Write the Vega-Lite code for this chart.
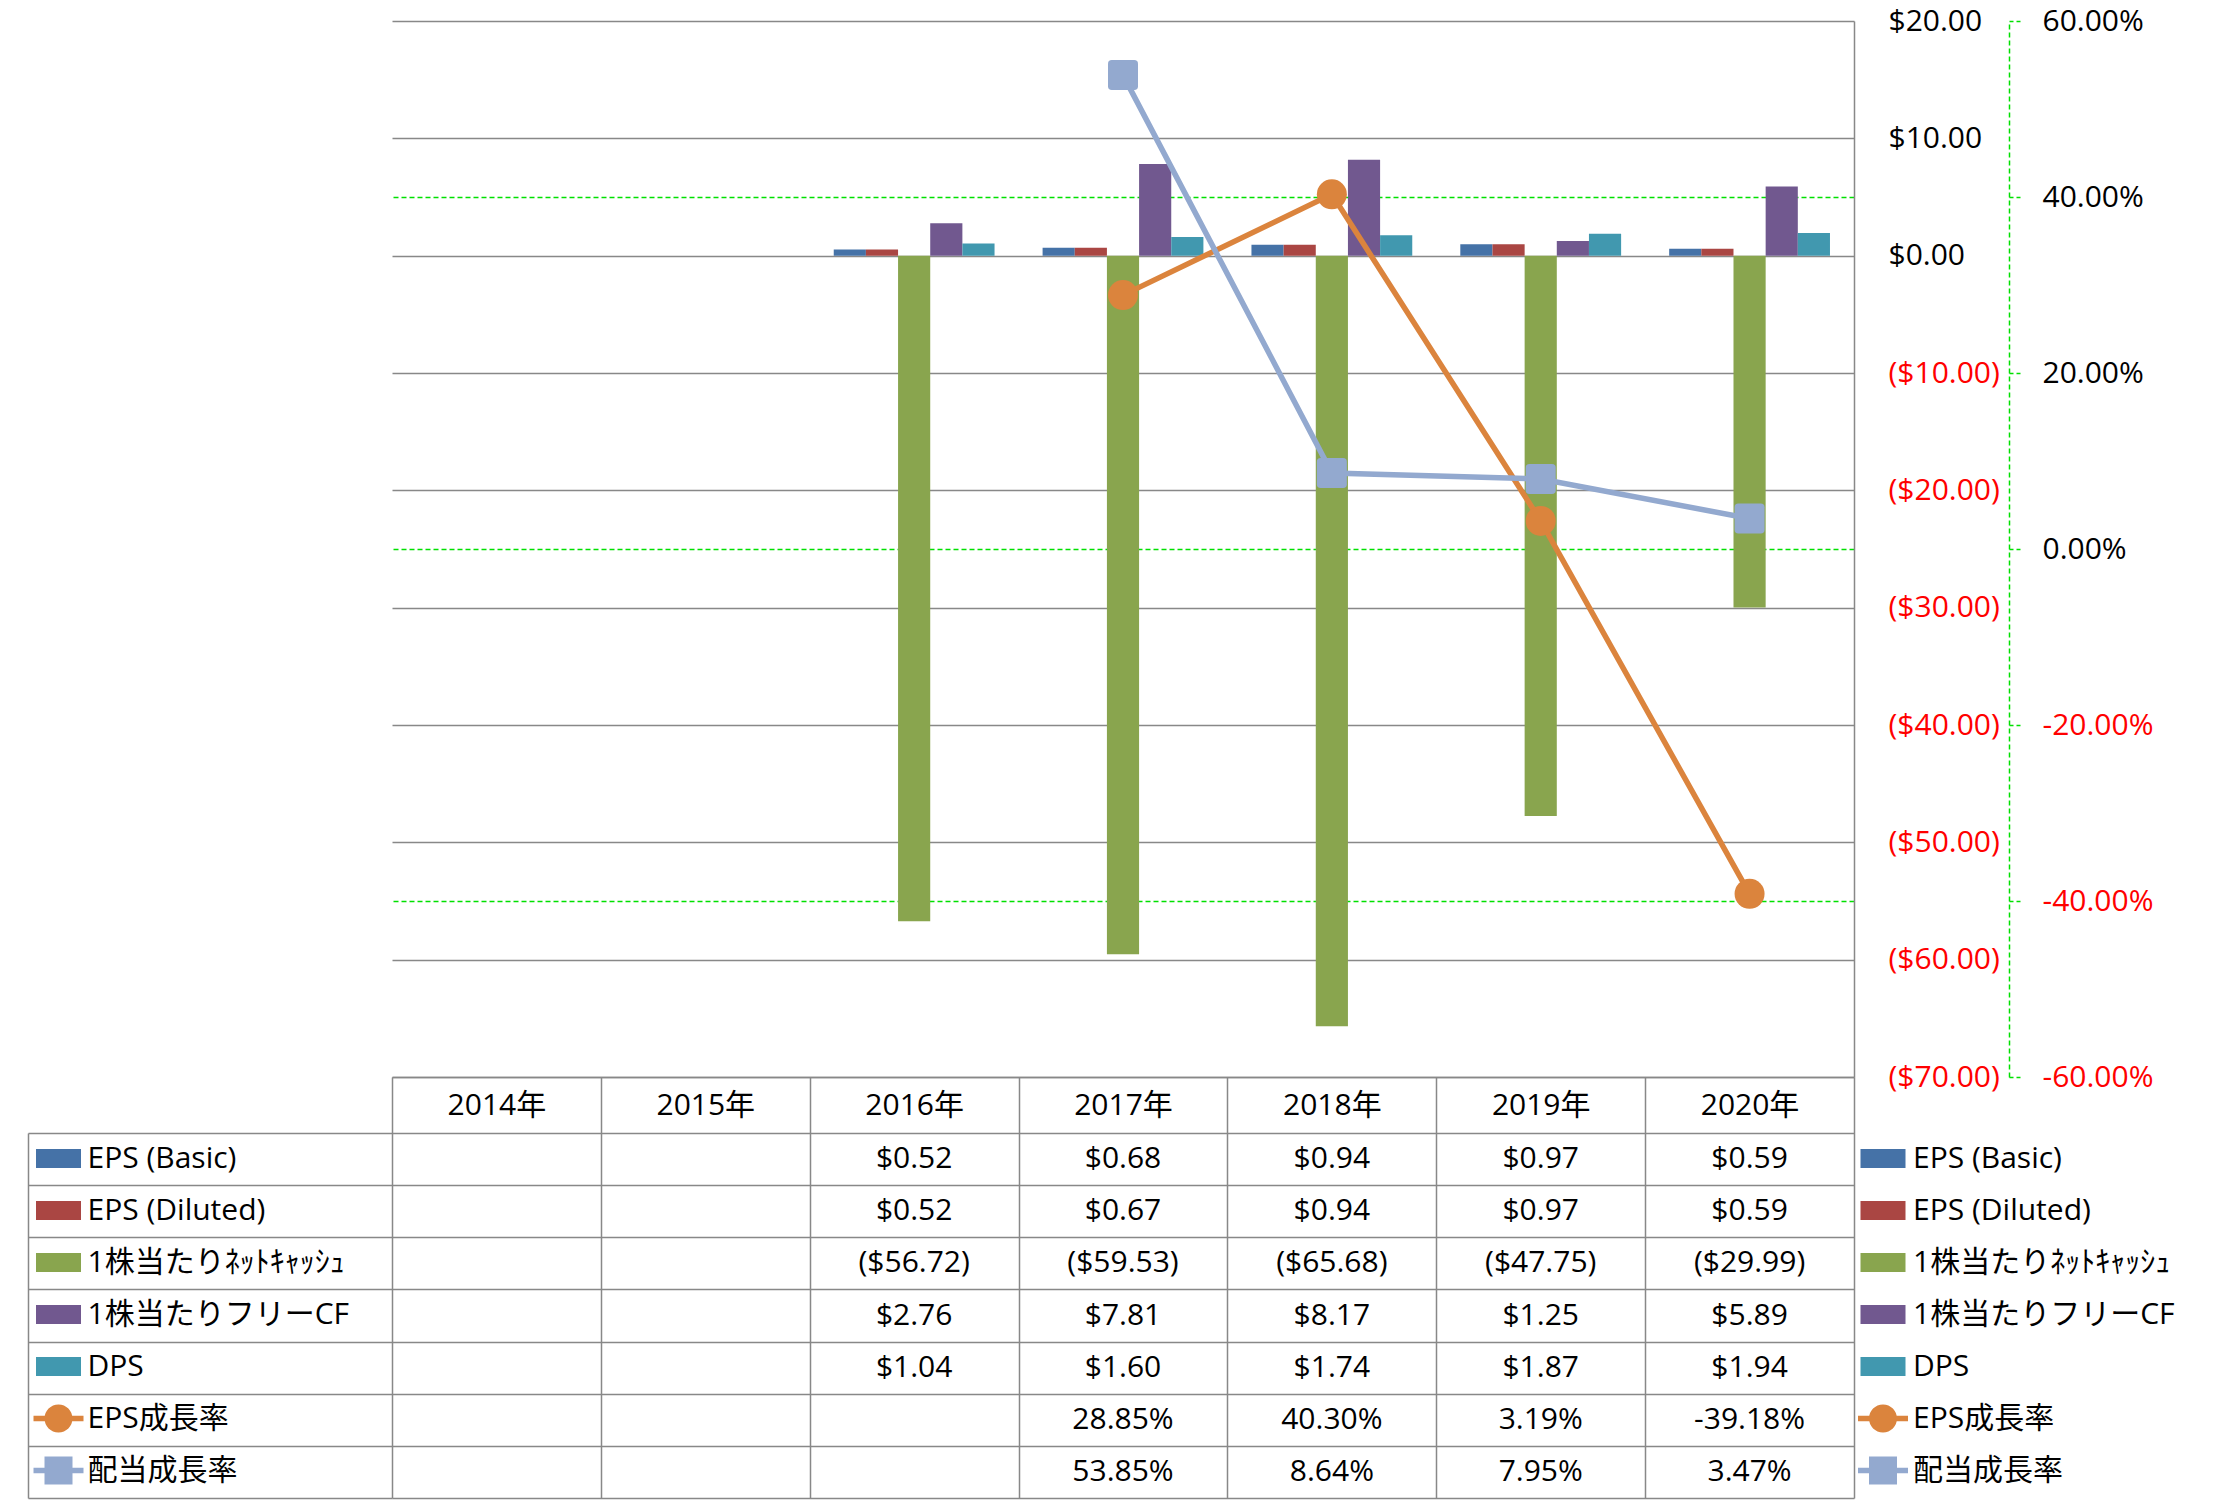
{
  "$schema": "https://vega.github.io/schema/vega-lite/v6.json",
  "width": 1462,
  "height": 1056,
  "autosize": {"type": "none"},
  "padding": {"left": 392, "top": 21, "right": 367, "bottom": 423},
  "background": "white",
  "config": {
    "font": "Open Sans, Noto Sans CJK JP",
    "view": {"stroke": null},
    "locale": {"number": {"decimal": ".", "thousands": ",", "grouping": [3], "currency": ["$", ""], "minus": "-", "percent": "%"}},
    "axis": {"labelFontSize": 30, "labelColor": "#000000", "labelFont": "Open Sans, Noto Sans CJK JP", "title": null},
    "legend": {"labelFont": "Open Sans, Noto Sans CJK JP"}
  },
  "datasets": {
    "perShare": [
      {"year": "2016年", "series": "EPS (Basic)", "v": 0.52},
      {"year": "2016年", "series": "EPS (Diluted)", "v": 0.52},
      {"year": "2016年", "series": "1株当たりﾈｯﾄｷｬｯｼｭ", "v": -56.72},
      {"year": "2016年", "series": "1株当たりフリーCF", "v": 2.76},
      {"year": "2016年", "series": "DPS", "v": 1.04},
      {"year": "2017年", "series": "EPS (Basic)", "v": 0.68},
      {"year": "2017年", "series": "EPS (Diluted)", "v": 0.67},
      {"year": "2017年", "series": "1株当たりﾈｯﾄｷｬｯｼｭ", "v": -59.53},
      {"year": "2017年", "series": "1株当たりフリーCF", "v": 7.81},
      {"year": "2017年", "series": "DPS", "v": 1.60},
      {"year": "2018年", "series": "EPS (Basic)", "v": 0.94},
      {"year": "2018年", "series": "EPS (Diluted)", "v": 0.94},
      {"year": "2018年", "series": "1株当たりﾈｯﾄｷｬｯｼｭ", "v": -65.68},
      {"year": "2018年", "series": "1株当たりフリーCF", "v": 8.17},
      {"year": "2018年", "series": "DPS", "v": 1.74},
      {"year": "2019年", "series": "EPS (Basic)", "v": 0.97},
      {"year": "2019年", "series": "EPS (Diluted)", "v": 0.97},
      {"year": "2019年", "series": "1株当たりﾈｯﾄｷｬｯｼｭ", "v": -47.75},
      {"year": "2019年", "series": "1株当たりフリーCF", "v": 1.25},
      {"year": "2019年", "series": "DPS", "v": 1.87},
      {"year": "2020年", "series": "EPS (Basic)", "v": 0.59},
      {"year": "2020年", "series": "EPS (Diluted)", "v": 0.59},
      {"year": "2020年", "series": "1株当たりﾈｯﾄｷｬｯｼｭ", "v": -29.99},
      {"year": "2020年", "series": "1株当たりフリーCF", "v": 5.89},
      {"year": "2020年", "series": "DPS", "v": 1.94}
    ],
    "growth": [
      {"year": "2017年", "series": "EPS成長率", "v": 0.2885},
      {"year": "2018年", "series": "EPS成長率", "v": 0.4030},
      {"year": "2019年", "series": "EPS成長率", "v": 0.0319},
      {"year": "2020年", "series": "EPS成長率", "v": -0.3918},
      {"year": "2017年", "series": "配当成長率", "v": 0.5385},
      {"year": "2018年", "series": "配当成長率", "v": 0.0864},
      {"year": "2019年", "series": "配当成長率", "v": 0.0795},
      {"year": "2020年", "series": "配当成長率", "v": 0.0347}
    ],
    "series": [
      {"series": "EPS (Basic)"},
      {"series": "EPS (Diluted)"},
      {"series": "1株当たりﾈｯﾄｷｬｯｼｭ"},
      {"series": "1株当たりフリーCF"},
      {"series": "DPS"},
      {"series": "EPS成長率"},
      {"series": "配当成長率"}
    ]
  },
  "layer": [
    {
      "layer": [
        {
          "data": {"name": "perShare"},
          "mark": {"type": "bar"},
          "encoding": {
            "x": {
              "field": "year", "type": "nominal",
              "scale": {"domain": ["2014年", "2015年", "2016年", "2017年", "2018年", "2019年", "2020年"], "paddingInner": 0, "paddingOuter": 0},
              "axis": {"orient": "bottom", "title": null, "labelAngle": 0, "labelFontSize": 30, "labelBaseline": "middle", "labelPadding": -393, "domain": true, "domainColor": "#888888", "domainWidth": 1.5, "ticks": true, "tickBand": "extent", "tickSize": 421, "tickColor": "#888888", "tickWidth": 1.5, "grid": false, "labelOverlap": false}
            },
            "xOffset": {
              "field": "series", "type": "nominal",
              "scale": {"domain": ["EPS (Basic)", "EPS (Diluted)", "1株当たりﾈｯﾄｷｬｯｼｭ", "1株当たりフリーCF", "DPS"], "paddingInner": 0, "paddingOuter": 0.747}
            },
            "y": {
              "field": "v", "type": "quantitative", "stack": null,
              "scale": {"domain": [-70, 20], "nice": false, "zero": false},
              "axis": {"orient": "right", "title": null, "values": [-70, -60, -50, -40, -30, -20, -10, 0, 10, 20], "format": "($.2f", "labelPadding": 34, "ticks": false, "domain": true, "domainColor": "#888888", "domainWidth": 1.5, "grid": true, "gridColor": "#888888", "gridWidth": 1.5, "labelBaseline": "middle", "labelColor": {"condition": {"test": "datum.value < 0", "value": "#FF0000"}, "value": "#000000"}}
            },
            "color": {
              "field": "series", "type": "nominal",
              "scale": {"domain": ["EPS (Basic)", "EPS (Diluted)", "1株当たりﾈｯﾄｷｬｯｼｭ", "1株当たりフリーCF", "DPS", "EPS成長率", "配当成長率"], "range": ["#4572A7", "#AA4643", "#89A54E", "#71588F", "#4198AF", "#DB843D", "#93A9CF"]},
              "legend": {
                "orient": "none", "legendX": 1466, "legendY": 1112.5, "title": null,
                "labelFontSize": 30, "labelLimit": 500, "labelOffset": 5, "labelColor": "#000000",
                "symbolSize": 2500, "symbolStrokeWidth": 0, "rowPadding": 12, "padding": 0,
                "encode": {"symbols": {"update": {
                  "shape": {"signal": "datum.value === 'EPS成長率' ? 'M-1,-0.11H1V0.11H-1Z M0.56,0A0.56,0.56,0,1,1,-0.56,0A0.56,0.56,0,1,1,0.56,0Z' : (datum.value === '配当成長率' ? 'M-1,-0.11H1V0.11H-1Z M-0.56,-0.56H0.56V0.56H-0.56Z' : 'M-0.9,-0.38H0.9V0.38H-0.9Z')"},
                  "opacity": {"value": 1},
                  "strokeWidth": {"value": 0}
                }}}
              }
            }
          }
        },
        {
          "data": {"name": "growth"},
          "encoding": {
            "x": {"field": "year", "type": "nominal"},
            "y": {
              "field": "v", "type": "quantitative",
              "scale": {"domain": [-0.6, 0.6], "nice": false, "zero": false},
              "axis": {"orient": "right", "offset": 155, "title": null, "values": [-0.6, -0.4, -0.2, 0, 0.2, 0.4, 0.6], "format": ".2%", "labelPadding": 22, "labelBaseline": "middle",
                "domain": true, "domainColor": "#00E000", "domainWidth": 1.5, "domainDash": [5, 3],
                "ticks": true, "tickSize": 11, "tickColor": "#00E000", "tickWidth": 1.5, "tickDash": [4, 3],
                "grid": true, "gridColor": "#00E000", "gridWidth": 1.5, "gridDash": [5, 3],
                "gridOpacity": {"condition": {"test": "abs(abs(datum.value) - 0.2) < 0.01 || abs(abs(datum.value) - 0.6) < 0.01", "value": 0}, "value": 1},
                "labelColor": {"condition": {"test": "datum.value < -0.001", "value": "#FF0000"}, "value": "#000000"}}
            },
            "color": {"field": "series", "type": "nominal"}
          },
          "layer": [
            {"mark": {"type": "line", "strokeWidth": 5.5}},
            {
              "mark": {"type": "point", "filled": true, "opacity": 1, "size": 900, "strokeWidth": 0},
              "encoding": {
                "shape": {"field": "series", "type": "nominal", "scale": {"domain": ["EPS成長率", "配当成長率"], "range": ["circle", "M-0.75,-1H0.75Q1,-1,1,-0.75V0.75Q1,1,0.75,1H-0.75Q-1,1,-1,0.75V-0.75Q-1,-1,-0.75,-1Z"]}, "legend": null}
              }
            }
          ]
        },
        {
          "layer": [
            {
              "data": {"name": "perShare"},
              "mark": {"type": "text", "fontSize": 30, "baseline": "middle", "align": "center", "color": "#000000"},
              "encoding": {
                "x": {"field": "year", "type": "nominal"},
                "y": {
                  "field": "series", "type": "nominal",
                  "scale": {"domain": ["EPS (Basic)", "EPS (Diluted)", "1株当たりﾈｯﾄｷｬｯｼｭ", "1株当たりフリーCF", "DPS", "EPS成長率", "配当成長率"], "range": [1112, 1477], "paddingInner": 0, "paddingOuter": 0},
                  "axis": {"orient": "left", "title": null, "domain": false, "labels": false, "ticks": true, "tickSize": 364, "tickColor": "#888888", "tickWidth": 1.5, "tickBand": "extent", "grid": true, "gridColor": "#888888", "gridWidth": 1.5}
                },
                "text": {"field": "v", "type": "quantitative", "format": "($.2f"}
              }
            },
            {
              "data": {"name": "growth"},
              "mark": {"type": "text", "fontSize": 30, "baseline": "middle", "align": "center", "color": "#000000"},
              "encoding": {
                "x": {"field": "year", "type": "nominal"},
                "y": {"field": "series", "type": "nominal"},
                "text": {"field": "v", "type": "quantitative", "format": ".2%"}
              }
            }
          ]
        }
      ],
      "resolve": {"scale": {"y": "independent"}}
    },
    {
      "data": {"name": "series"},
      "mark": {"type": "point", "filled": true, "opacity": 0},
      "encoding": {
        "y": {
          "field": "series", "type": "nominal",
          "scale": {"domain": ["EPS (Basic)", "EPS (Diluted)", "1株当たりﾈｯﾄｷｬｯｼｭ", "1株当たりフリーCF", "DPS", "EPS成長率", "配当成長率"], "range": [1112, 1477], "paddingInner": 0, "paddingOuter": 0},
          "axis": {"orient": "left", "offset": 364, "title": null, "domain": true, "domainColor": "#888888", "domainWidth": 1.5, "ticks": false, "labels": false, "grid": false}
        },
        "color": {
          "field": "series", "type": "nominal",
          "scale": {"domain": ["EPS (Basic)", "EPS (Diluted)", "1株当たりﾈｯﾄｷｬｯｼｭ", "1株当たりフリーCF", "DPS", "EPS成長率", "配当成長率"], "range": ["#4572A7", "#AA4643", "#89A54E", "#71588F", "#4198AF", "#DB843D", "#93A9CF"]},
          "legend": {
            "orient": "none", "legendX": -358.5, "legendY": 1112.5, "title": null,
            "labelFontSize": 30, "labelLimit": 500, "labelOffset": 4, "labelColor": "#000000",
            "symbolSize": 2500, "symbolStrokeWidth": 0, "rowPadding": 12, "padding": 0,
            "encode": {"symbols": {"update": {
              "shape": {"signal": "datum.value === 'EPS成長率' ? 'M-1,-0.11H1V0.11H-1Z M0.56,0A0.56,0.56,0,1,1,-0.56,0A0.56,0.56,0,1,1,0.56,0Z' : (datum.value === '配当成長率' ? 'M-1,-0.11H1V0.11H-1Z M-0.56,-0.56H0.56V0.56H-0.56Z' : 'M-0.9,-0.38H0.9V0.38H-0.9Z')"},
              "opacity": {"value": 1},
              "strokeWidth": {"value": 0}
            }}}
          }
        }
      }
    }
  ],
  "resolve": {"scale": {"y": "independent", "color": "independent"}, "legend": {"color": "independent"}}
}
